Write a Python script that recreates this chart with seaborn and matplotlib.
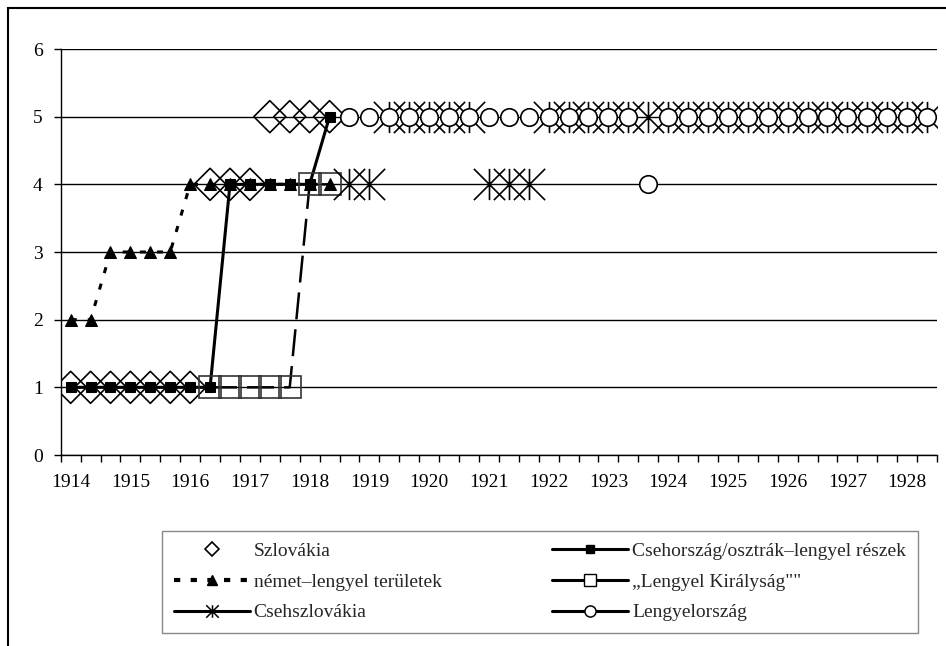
import numpy as np
import pandas as pd
import matplotlib
matplotlib.use("Agg")
import matplotlib.pyplot as plt
from matplotlib.path import Path
from matplotlib.lines import Line2D
from matplotlib.patches import Rectangle
import seaborn as sns

N = np.nan

# ---- data (three periods per year, 1914 .. 1928) ----
years = list(range(1914, 1929))
periods = [f"{y}/{k}" for y in years for k in (1, 2, 3)][:44]
year_labels = [str(y) for y in years]

szlovakia = [1, 1, 1,  1, 1, 1,  1, 4, 4,  4, 5, 5,  5, 5, N,
             N, N, N,  N, N, N,  N, N, N,  N, N, N,  N, N, N,
             N, N, N,  N, N, N,  N, N, N,  N, N, N,  N, N]
cseh = [1, 1, 1,  1, 1, 1,  1, 1, 4,  4, 4, 4,  4, 5, N,
        N, N, N,  N, N, N,  N, N, N,  N, N, N,  N, N, N,
        N, N, N,  N, N, N,  N, N, N,  N, N, N,  N, N]
nemet = [2, 2, 3,  3, 3, 3,  4, 4, 4,  4, 4, 4,  4, 4, N,
         N, N, N,  N, N, N,  N, N, N,  N, N, N,  N, N, N,
         N, N, N,  N, N, N,  N, N, N,  N, N, N,  N, N]
kiralysag = [N, N, N,  N, N, N,  N, 1, 1,  1, 1, 1,  4, 4, N,
             N, N, N,  N, N, N,  N, N, N,  N, N, N,  N, N, N,
             N, N, N,  N, N, N,  N, N, N,  N, N, N,  N, N]
csehszlovakia = [N, N, N,  N, N, N,  N, N, N,  N, N, N,  N, N, 4,
                 4, 5, 5,  5, 5, 5,  4, 4, 4,  5, 5, 5,  5, 5, 5,
                 5, 5, 5,  5, 5, 5,  5, 5, 5,  5, 5, 5,  5, 5]
lengyel = [N, N, N,  N, N, N,  N, N, N,  N, N, N,  N, N, 5,
           5, 5, 5,  5, 5, 5,  5, 5, 5,  5, 5, 5,  5, 5, 4,
           5, 5, 5,  5, 5, 5,  5, 5, 5,  5, 5, 5,  5, 5]

labels = ["Szlovákia", "Csehország/osztrák–lengyel részek", "német–lengyel területek",
          "„Lengyel Királyság\"\"", "Csehszlovákia", "Lengyelország"]

df = pd.DataFrame({
    "period": periods,
    "x": np.arange(len(periods)),
    "szlovakia": szlovakia,
    "cseh": cseh,
    "nemet": nemet,
    "kiralysag": kiralysag,
    "csehszlovakia": csehszlovakia,
    "lengyel": lengyel,
})

sns.set_theme(style="white")
plt.rcParams["font.family"] = ["Liberation Serif", "DejaVu Serif"]
plt.rcParams["font.size"] = 14

W, H = 946, 646
fig = plt.figure(figsize=(W / 100, H / 100), dpi=100)
ax = fig.add_axes([60.7 / W, 1 - 455 / H, (937 - 60.7) / W, (455 - 49) / H])

# asterisk marker: X plus vertical bar
ast = Path([(-1, -1), (1, 1), (-1, 1), (1, -1), (0, -1), (0, 1)],
           [Path.MOVETO, Path.LINETO, Path.MOVETO, Path.LINETO, Path.MOVETO, Path.LINETO])

# Szlovákia: open diamonds, no line
sns.scatterplot(data=df, x="x", y="szlovakia", marker="D", s=16.3 ** 2,
                facecolor="none", edgecolor="black", linewidth=1.2, ax=ax, zorder=3)
# német-lengyel: dashed with triangles
sns.lineplot(data=df, x="x", y="nemet", color="black", linewidth=2.2,
             linestyle=(0, (2, 3.6)), marker="^", markersize=9,
             markerfacecolor="black", markeredgecolor="black", errorbar=None,
             ax=ax, zorder=4)
# Csehország: solid with filled squares
sns.lineplot(data=df, x="x", y="cseh", color="black", linewidth=2.2,
             marker="s", markersize=7.8, markerfacecolor="black",
             markeredgecolor="black", errorbar=None, ax=ax, zorder=5)
# Lengyel Királyság: long dashes with open squares
sns.lineplot(data=df, x="x", y="kiralysag", color="black", linewidth=1.8,
             linestyle=(0, (10.8, 4)), marker="s", markersize=16.5,
             markerfacecolor="none", markeredgecolor="#333333", markeredgewidth=1.2,
             errorbar=None, ax=ax, zorder=6)
# Csehszlovákia: asterisks
sns.scatterplot(data=df, x="x", y="csehszlovakia", marker=ast, s=22.5 ** 2,
                color="black", edgecolor="black", linewidth=1.2, ax=ax, zorder=7)
# Lengyelország: white-filled circles
sns.scatterplot(data=df, x="x", y="lengyel", marker="o", s=12.6 ** 2,
                facecolor="white", edgecolor="black", linewidth=1.2, ax=ax, zorder=8)

ax.set_xlabel("")
ax.set_ylabel("")
ax.set_xlim(-0.5, len(periods) - 0.5)
ax.set_ylim(0, 6)
ax.set_yticks(range(7))
ax.set_xticks(np.arange(0, len(periods), 3))
ax.set_xticklabels(year_labels)
ax.set_xticks(np.arange(-0.5, len(periods), 1), minor=True)
ax.tick_params(axis="x", which="major", length=0, pad=14, labelsize=14, colors="black")
ax.tick_params(axis="x", which="minor", length=5, width=1, direction="out", bottom=True, color="black")
ax.tick_params(axis="y", length=5, width=1, direction="out", left=True, pad=8, labelsize=14, colors="black")
ax.yaxis.grid(True, color="black", linewidth=1)
ax.xaxis.grid(False)
ax.set_axisbelow(True)
for s in ("top", "right"):
    ax.spines[s].set_visible(False)
for s in ("left", "bottom"):
    ax.spines[s].set_color("black")
    ax.spines[s].set_linewidth(1)

# legend
h_szl = Line2D([], [], linestyle="none", marker="D", markersize=7, markerfacecolor="none",
               markeredgecolor="black", markeredgewidth=1.2)
h_nem = Line2D([], [], color="black", linewidth=3, linestyle=(0, (1.5, 2.5)), marker="^",
               markersize=7, markerfacecolor="black", markeredgecolor="black")
h_csz = Line2D([], [], color="black", linewidth=2.2, marker=ast, markersize=9,
               markeredgecolor="black", markeredgewidth=1.1)
h_cse = Line2D([], [], color="black", linewidth=2.2, marker="s", markersize=6,
               markerfacecolor="black", markeredgecolor="black")
h_kir = Line2D([], [], color="black", linewidth=2.2, marker="s", markersize=8,
               markerfacecolor="white", markeredgecolor="black", markeredgewidth=1)
h_len = Line2D([], [], color="black", linewidth=2.2, marker="o", markersize=8,
               markerfacecolor="white", markeredgecolor="black", markeredgewidth=1.1)
leg = fig.legend([h_szl, h_nem, h_csz, h_cse, h_kir, h_len],
                 [labels[0], labels[2], labels[4], labels[1], labels[3], labels[5]],
                 ncol=2, loc="center", bbox_to_anchor=((163 + 917) / 2 / W, 1 - (527 + 637) / 2 / H),
                 frameon=True, fancybox=False, edgecolor="#888888", framealpha=1,
                 fontsize=14, handlelength=3.9, handletextpad=0.2, columnspacing=5.7,
                 labelspacing=0.67, borderpad=0.6)
leg.get_frame().set_linewidth(1)

# outer chart border
fig.add_artist(Rectangle((8 / W, -0.1), 1.2, 1.1 - 8 / H, transform=fig.transFigure,
                         fill=False, edgecolor="black", linewidth=1.5, clip_on=False))

fig.savefig("out.png", dpi=100)
